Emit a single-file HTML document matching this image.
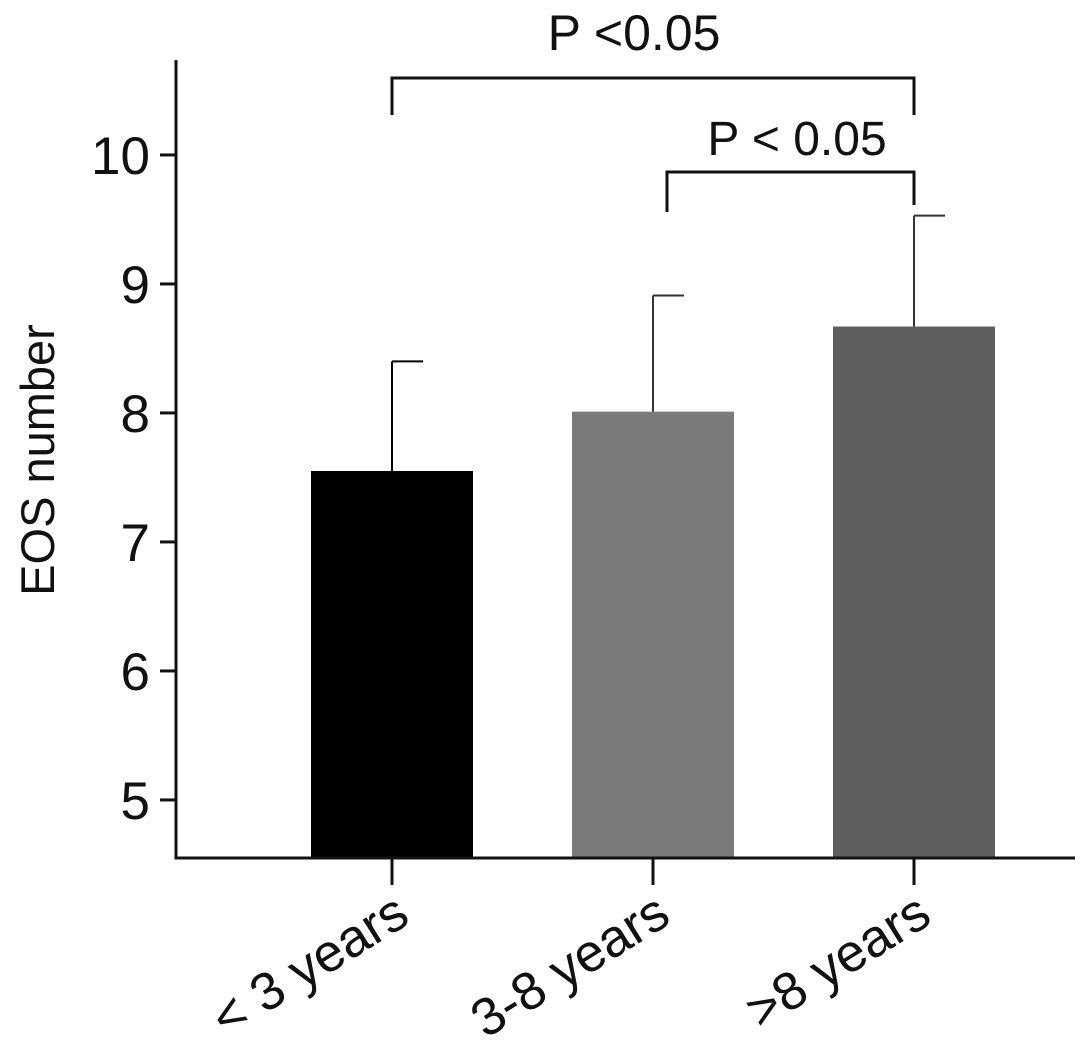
<!DOCTYPE html>
<html><head><meta charset="utf-8"><style>
body{margin:0;background:#fff}
svg text{font-family:"Liberation Sans",Arial,sans-serif;fill:#111}
</style></head><body>
<svg id="chart" width="1087" height="1052" viewBox="0 0 1087 1052" xmlns="http://www.w3.org/2000/svg">
<g id="bars"></g><g id="axes"></g><g id="annot"></g>
</svg>
<script>
const categories = ["< 3 years", "3-8 years", ">8 years"];
const means = [7.55, 8.01, 8.67];
const sds = [0.85, 0.90, 0.86];
const colors = ["#000000", "#7b7b7b", "#5f5f5f"];
const yTicks = [5, 6, 7, 8, 9, 10];
const NS = "http://www.w3.org/2000/svg";
const svg = document.getElementById('chart');
const y0 = 858, yMin = 4.55, pxPerUnit = 129;
const y = v => y0 - (v - yMin) * pxPerUnit;
const xCenters = i => 392 + i * 261;
const barW = 162;
function mk(tag, attrs, parent){const e=document.createElementNS(NS,tag);for(const k in attrs)e.setAttribute(k,attrs[k]);parent.appendChild(e);return e;}
const gb=document.getElementById('bars'), ga=document.getElementById('axes'), gn=document.getElementById('annot');
categories.forEach((c,i)=>{
  const cx=xCenters(i);
  const r=mk('rect',{x:cx-barW/2,y:y(means[i]),width:barW,height:y0-y(means[i]),fill:colors[i]},gb);
  
  
  const top=y(means[i]+sds[i]);
  const e=mk('path',{d:`M${cx} ${y(means[i])} V${top} M${cx} ${top} H${cx+31}`,stroke:i===0?'#000':'#333','stroke-width':2,fill:'none'},gb);
  
  
  const t=mk('line',{x1:cx,x2:cx,y1:y0,y2:885,stroke:'#111','stroke-width':3},ga);
  
  
  const l=mk('text',{x:0,y:0,'text-anchor':'end','font-size':53,transform:`translate(${cx+20},${922}) rotate(-32)`},ga);
  l.textContent=c;
  
  
});
const ax=mk('path',{d:`M176 60 V${y0} H1075`,stroke:'#111','stroke-width':3,fill:'none'},ga);


yTicks.forEach(v=>{
  const t=mk('line',{x1:160,x2:176,y1:y(v),y2:y(v),stroke:'#111','stroke-width':3},ga);
  
  
  const l=mk('text',{x:150,y:y(v)+19,'text-anchor':'end','font-size':53},ga);
  l.textContent=v;
  
  
});
const yt=mk('text',{x:0,y:0,'text-anchor':'middle','font-size':47,transform:'translate(54,460) rotate(-90)'},ga);
yt.textContent='EOS number';


const b1=mk('path',{d:'M392 115 V78 H914 V115',stroke:'#111','stroke-width':3,fill:'none'},gn);


const p1=mk('text',{x:634,y:50,'text-anchor':'middle','font-size':50},gn);
p1.textContent='P <0.05';


const b2=mk('path',{d:'M667 212 V172 H914 V205',stroke:'#111','stroke-width':3,fill:'none'},gn);


const p2=mk('text',{x:797,y:155,'text-anchor':'middle','font-size':48},gn);
p2.textContent='P < 0.05';


</script>
</body></html>
